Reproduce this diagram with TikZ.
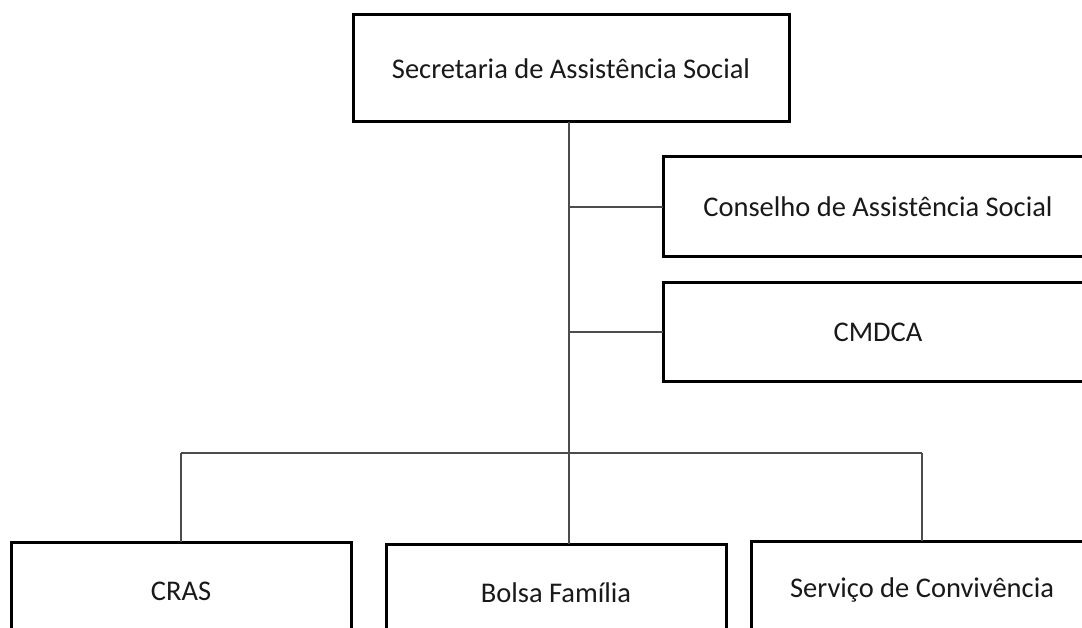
\documentclass[tikz,border=0pt]{standalone}
\usepackage{fontspec}
\setmainfont{Carlito}
\begin{document}
\begin{tikzpicture}[x=1pt,y=-1pt,
  orgbox/.style={draw=black, line width=3pt, fill=white, inner sep=0pt, outer sep=0pt,
    font=\fontsize{28.5}{34}\selectfont, text=black!90},
  link/.style={draw=black!70, line width=1.3pt}]
\useasboundingbox (0,0) rectangle (1082,628);
\clip (0,0) rectangle (1082,628);
\node[orgbox, minimum width=436pt, minimum height=107pt] (top) at (571,68.5) {Secretaria de Assistência Social};
\node[orgbox, minimum width=430pt, minimum height=100pt] (cons) at (878,207) {Conselho de Assistência Social};
\node[orgbox, minimum width=430pt, minimum height=98pt] (cmdca) at (878,332) {CMDCA};
\node[orgbox, minimum width=340pt, minimum height=98pt] (cras) at (181,591) {CRAS};
\node[orgbox, minimum width=340pt, minimum height=98pt] (bolsa) at (556,593) {Bolsa Família};
\node[orgbox, minimum width=342pt, minimum height=98pt] (serv) at (922,590) {Serviço de Convivência};
\coordinate (trunk) at (569,122);
\coordinate (bus) at (569,453);
\draw[link] (trunk) -- (trunk |- bolsa.north);
\draw[link] (trunk |- cons.west) -- (cons.west);
\draw[link] (trunk |- cmdca.west) -- (cmdca.west);
\draw[link] (cras.north |- bus) -- (serv.north |- bus);
\draw[link] (cras.north |- bus) -- (cras.north);
\draw[link] (serv.north |- bus) -- (serv.north);
\end{tikzpicture}
\end{document}
